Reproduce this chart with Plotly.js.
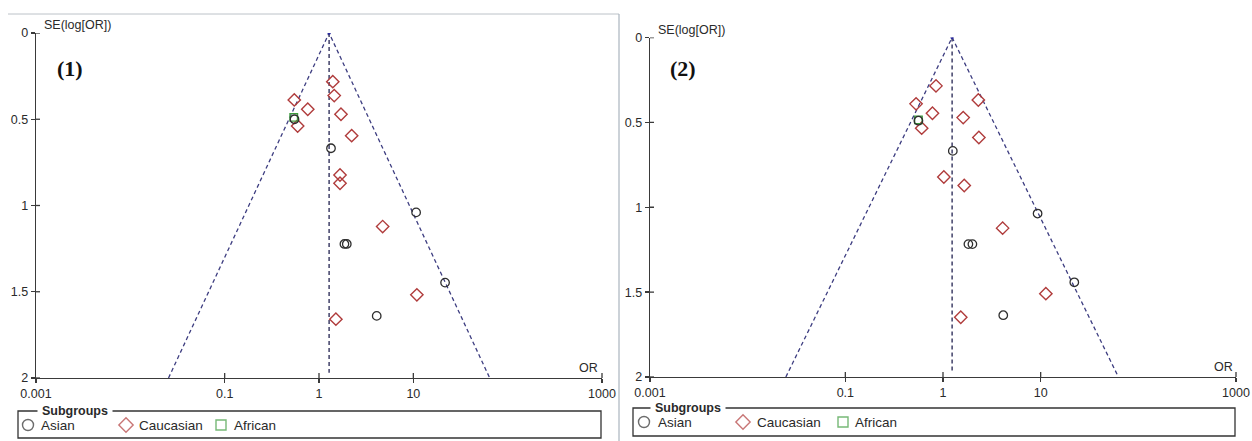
<!DOCTYPE html>
<html><head><meta charset="utf-8">
<script src="https://cdn.plot.ly/plotly-3.0.1.min.js"></script>
<style>html,body{margin:0;padding:0;background:#fff;}#chart{width:1252px;height:441px;}</style>
</head><body><div id="chart"></div>
<script>
// ---- data ----
var pooledOR = [1.28, 1.24];
var asian1OR = [0.55, 1.34, 10.7, 1.86, 1.97, 21.7, 4.09];
var asian1SE = [0.50, 0.668, 1.04, 1.223, 1.223, 1.447, 1.64];
var cauc1OR = [1.40, 1.45, 0.547, 0.76, 1.71, 0.594, 2.22, 1.67, 1.67, 4.73, 10.9, 1.51];
var cauc1SE = [0.282, 0.363, 0.388, 0.442, 0.471, 0.539, 0.595, 0.823, 0.871, 1.122, 1.518, 1.659];
var afr1OR = [0.54];
var afr1SE = [0.489];
var asian2OR = [0.56, 1.26, 9.3, 1.82, 2.0, 22.1, 4.14];
var asian2SE = [0.49, 0.668, 1.037, 1.217, 1.217, 1.442, 1.636];
var cauc2OR = [0.848, 0.53, 2.30, 0.78, 1.61, 0.605, 2.33, 1.02, 1.65, 4.08, 11.3, 1.52];
var cauc2SE = [0.285, 0.391, 0.368, 0.446, 0.472, 0.534, 0.589, 0.822, 0.872, 1.123, 1.509, 1.648];
var afr2OR = [0.56];
var afr2SE = [0.485];
var xTickVals = [0.001, 0.1, 1, 10, 1000];
var xTickText = ['0.001', '0.1', '1', '10', '1000'];
var yTickVals = [0, 0.5, 1, 1.5, 2];
var yTickText = ['0', '0.5', '1', '1.5', '2'];
var groupNames = ['Asian', 'Caucasian', 'African'];
var panelLabels = ['(1)', '(2)'];
var seMax = 2;

// ---- styles ----
var W = 1252, H = 441;
var FONT = 'Liberation Sans, Arial, sans-serif';
var TXT = '#2a2a2a';
var AX = '#3a3a3a';
var cCirc = '#2e2e2e', cDia = '#b03c3c', cSq = '#3c9a3c';
var cFun = '#3d3d80', cMid = '#404068';

var traces = [];
function panel(xa, ya, aOR, aSE, cOR, cSE, fOR, fSE, pooled) {
  var lo = pooled * Math.exp(-1.96 * seMax), hi = pooled * Math.exp(1.96 * seMax);
  traces.push({x: [lo, pooled, hi], y: [seMax, 0, seMax], xaxis: xa, yaxis: ya, mode: 'lines',
    line: {color: cFun, width: 1.3, dash: '4px,3px'}, hoverinfo: 'skip', showlegend: false});
  traces.push({x: [pooled, pooled], y: [0, seMax * 0.985], xaxis: xa, yaxis: ya, mode: 'lines',
    line: {color: cMid, width: 1.5, dash: '4px,3px'}, hoverinfo: 'skip', showlegend: false});
  traces.push({x: [pooled], y: [0], xaxis: xa, yaxis: ya, mode: 'markers',
    marker: {color: '#2a2aa0', size: 3.5}, showlegend: false});
  traces.push({x: cOR, y: cSE, xaxis: xa, yaxis: ya, mode: 'markers', name: groupNames[1],
    marker: {symbol: 'diamond-open', size: 9.5, color: cDia, line: {width: 1.4, color: cDia}}, showlegend: false});
  traces.push({x: fOR, y: fSE, xaxis: xa, yaxis: ya, mode: 'markers', name: groupNames[2],
    marker: {symbol: 'square-open', size: 7.5, color: cSq, line: {width: 1.4, color: cSq}}, showlegend: false});
  traces.push({x: aOR, y: aSE, xaxis: xa, yaxis: ya, mode: 'markers', name: groupNames[0],
    marker: {symbol: 'circle-open', size: 8.5, color: cCirc, line: {width: 1.3, color: cCirc}}, showlegend: false});
}
panel('x', 'y', asian1OR, asian1SE, cauc1OR, cauc1SE, afr1OR, afr1SE, pooledOR[0]);
panel('x2', 'y2', asian2OR, asian2SE, cauc2OR, cauc2SE, afr2OR, afr2SE, pooledOR[1]);

// panel geometry in pixels
var P = [
  {l: 36, r: 602, t: 33, b: 378, legL: 18, legR: 601, legT: 411, legB: 438, legTitleX: 42,
   items: [28, 126, 221], textX: [39, 137, 232], itemY: 425, seX: 42, seY: 25, orX: 600, orY: 368,
   labX: 55, labY: 68},
  {l: 650, r: 1236, t: 37.5, b: 377, legL: 633, legR: 1235, legT: 408, legB: 436, legTitleX: 655,
   items: [644, 743, 843], textX: [656, 755, 853], itemY: 422, seX: 656, seY: 30, orX: 1235, orY: 367,
   labX: 668, labY: 68}
];
function dx(p) { return [p.l / W, p.r / W]; }
function dy(p) { return [1 - p.b / H, 1 - p.t / H]; }

function xAxis(p) {
  return {type: 'log', range: [-3, 3], domain: dx(p), showline: true, linecolor: AX, linewidth: 1.3,
    showgrid: false, zeroline: false, ticks: 'outside', ticklen: 4, tickcolor: AX, tickwidth: 1.3,
    tickvals: xTickVals, ticktext: xTickText, tickfont: {family: FONT, size: 12.5, color: TXT}, fixedrange: true};
}
function yAxis(p, anchor) {
  return {range: [seMax, 0], domain: dy(p), showline: true, linecolor: AX, linewidth: 1.3,
    showgrid: false, zeroline: false, ticks: 'outside', ticklen: 4, tickcolor: AX, tickwidth: 1.3,
    tickvals: yTickVals, ticktext: yTickText, tickfont: {family: FONT, size: 12.5, color: TXT},
    anchor: anchor, fixedrange: true};
}

// legend marker trace on a pixel overlay axis
var legX = [], legY = [], legSym = [], legCol = [], legSize = [];
var syms = ['circle-open', 'diamond-open', 'square-open'];
var cols = [cCirc, cDia, cSq];
var sizes = [11, 11, 10];
P.forEach(function (p) {
  for (var i = 0; i < 3; i++) { legX.push(p.items[i]); legY.push(p.itemY); legSym.push(syms[i]); legCol.push(cols[i]); legSize.push(sizes[i]); }
});
traces.push({x: legX, y: legY, xaxis: 'x3', yaxis: 'y3', mode: 'markers', showlegend: false, hoverinfo: 'skip',
  marker: {symbol: legSym, size: legSize, color: legCol, line: {width: 1.4, color: legCol}}});

var shapes = [], ann = [];
// left panel frame (light grey)
shapes.push({type: 'line', xref: 'x3', yref: 'y3', x0: 8, x1: 619, y0: 14, y1: 14, line: {color: '#bcc2c8', width: 1}});
shapes.push({type: 'line', xref: 'x3', yref: 'y3', x0: 619, x1: 619, y0: 14, y1: 441, line: {color: '#aab4be', width: 1.2}});

P.forEach(function (p, k) {
  var xr = k === 0 ? 'x' : 'x2', yr = k === 0 ? 'y' : 'y2';
  // inner halves of ticks (ticks cross the axis)
  xTickVals.forEach(function (v) {
    var f = (Math.log10(v) + 3) / 6;
    if (f > 0.001) shapes.push({type: 'line', xref: xr + ' domain', yref: yr + ' domain', x0: f, x1: f, y0: 0, y1: 5 / (p.b - p.t), line: {color: AX, width: 1.3}});
  });
  yTickVals.forEach(function (v) {
    shapes.push({type: 'line', xref: xr + ' domain', yref: yr, x0: 0, x1: 4 / (p.r - p.l), y0: v, y1: v, line: {color: AX, width: 1.3}});
  });
  // legend box
  shapes.push({type: 'rect', xref: 'x3', yref: 'y3', x0: p.legL, x1: p.legR, y0: p.legT, y1: p.legB, line: {color: '#333', width: 1.3}});
  ann.push({xref: 'x3', yref: 'y3', x: p.legTitleX - 5, y: p.legT, xanchor: 'left', yanchor: 'middle', showarrow: false,
    text: '<b>Subgroups</b>', bgcolor: '#fff', borderpad: 0, font: {family: FONT, size: 12.5, color: TXT},
    width: 74, align: 'center'});
  for (var i = 0; i < 3; i++) {
    ann.push({xref: 'x3', yref: 'y3', x: p.textX[i], y: p.itemY, xanchor: 'left', yanchor: 'middle', showarrow: false,
      text: groupNames[i], font: {family: FONT, size: 13.5, color: TXT}});
  }
  ann.push({xref: 'x3', yref: 'y3', x: p.seX, y: p.seY, xanchor: 'left', yanchor: 'middle', showarrow: false,
    text: 'SE(log[OR])', font: {family: FONT, size: 12.5, color: TXT}});
  ann.push({xref: 'x3', yref: 'y3', x: p.orX, y: p.orY, xanchor: 'right', yanchor: 'middle', showarrow: false,
    text: 'OR', font: {family: FONT, size: 12.5, color: TXT}});
  ann.push({xref: 'x3', yref: 'y3', x: p.labX, y: p.labY, xanchor: 'left', yanchor: 'middle', showarrow: false,
    text: '<b>' + panelLabels[k] + '</b>', font: {family: 'Liberation Serif, Times New Roman, serif', size: 22, color: '#111'}});
});

var layout = {
  width: W, height: H, margin: {l: 0, r: 0, t: 0, b: 0},
  paper_bgcolor: '#fff', plot_bgcolor: 'rgba(0,0,0,0)', showlegend: false,
  xaxis: Object.assign(xAxis(P[0]), {anchor: 'y'}), yaxis: yAxis(P[0], 'x'),
  xaxis2: Object.assign(xAxis(P[1]), {anchor: 'y2'}), yaxis2: yAxis(P[1], 'x2'),
  xaxis3: {range: [0, W], domain: [0, 1], visible: false, anchor: 'y3', fixedrange: true},
  yaxis3: {range: [H, 0], domain: [0, 1], visible: false, anchor: 'x3', fixedrange: true},
  shapes: shapes, annotations: ann
};
Plotly.newPlot('chart', traces, layout, {staticPlot: true, displayModeBar: false});
</script></body></html>
